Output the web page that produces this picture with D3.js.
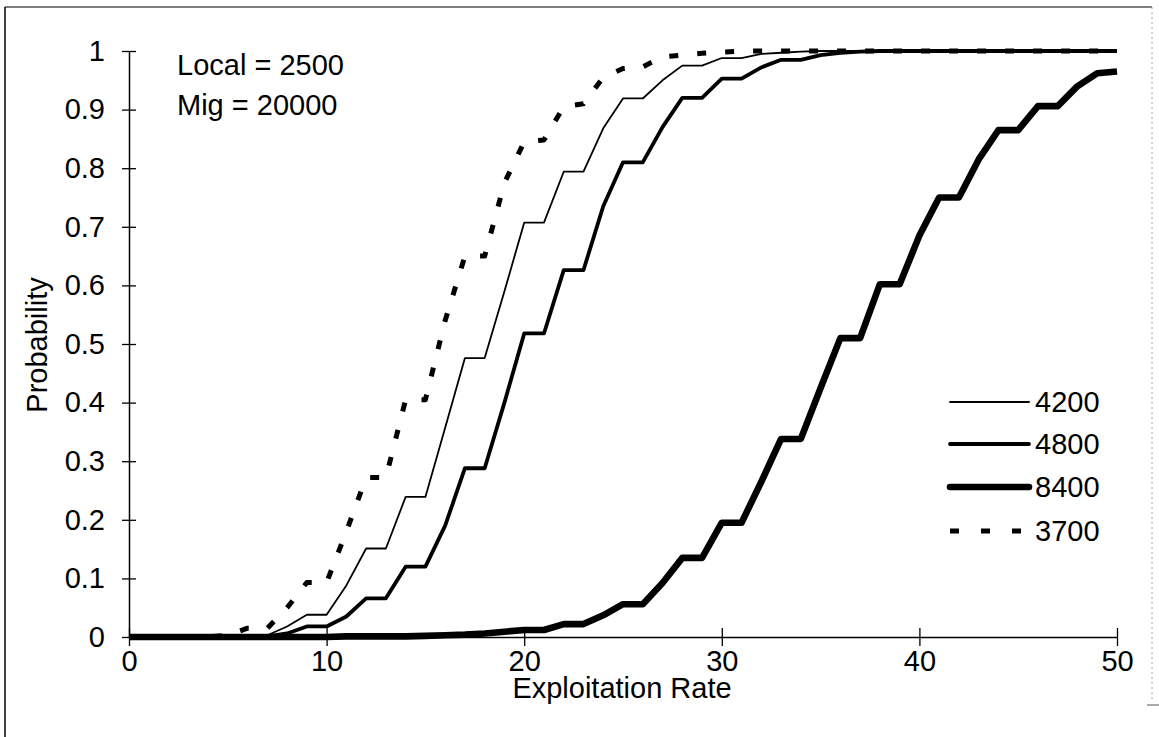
<!DOCTYPE html>
<html>
<head>
<meta charset="utf-8">
<script src="https://cdn.jsdelivr.net/npm/d3@7"></script>
<style>
  html, body { margin: 0; padding: 0; background: #fff; }
  svg { display: block; }
  text { font-family: "Liberation Sans", Arial, Helvetica, sans-serif; fill: #000; }
</style>
</head>
<body>
<svg id="chart" width="1159" height="737"></svg>
<script>
// ---------- data ----------
const exploitationRate = [0,1,2,3,4,5,6,7,8,9,10,11,12,13,14,15,16,17,18,19,20,21,22,23,24,25,26,27,28,29,30,31,32,33,34,35,36,37,38,39,40,41,42,43,44,45,46,47,48,49,50];

const p4200 = [0,0,0,0,0,0,0,0.003,0.018,0.038,0.038,0.088,0.151,0.151,0.239,0.239,0.357,0.476,0.476,0.59,0.707,0.707,0.794,0.794,0.868,0.919,0.919,0.95,0.975,0.975,0.988,0.988,0.995,0.997,0.999,1,1,1,1,1,1,1,1,1,1,1,1,1,1,1,1];

const p4800 = [0,0,0,0,0,0,0,0.001,0.006,0.018,0.018,0.035,0.066,0.066,0.12,0.12,0.19,0.288,0.288,0.40,0.518,0.518,0.626,0.626,0.735,0.81,0.81,0.87,0.92,0.92,0.953,0.953,0.972,0.985,0.985,0.993,0.997,0.999,1,1,1,1,1,1,1,1,1,1,1,1,1];

const p8400 = [0,0,0,0,0,0,0,0,0,0,0,0.001,0.001,0.001,0.001,0.002,0.003,0.004,0.006,0.009,0.012,0.012,0.022,0.022,0.037,0.056,0.056,0.092,0.135,0.135,0.195,0.195,0.265,0.338,0.338,0.425,0.51,0.51,0.602,0.602,0.685,0.75,0.75,0.815,0.865,0.865,0.906,0.906,0.94,0.962,0.965];

const p3700 = [0,0,0,0,0,0.003,0.015,0.015,0.05,0.093,0.093,0.18,0.272,0.272,0.405,0.405,0.54,0.65,0.65,0.775,0.845,0.848,0.905,0.91,0.955,0.97,0.973,0.99,0.993,0.996,0.998,1,1,1,1,1,1,1,1,1,1,1,1,1,1,1,1,1,1,1,1];

const seriesNames = ["4200", "4800", "8400", "3700"];
const xTickValues = [0, 10, 20, 30, 40, 50];
const yTickValues = [0, 0.1, 0.2, 0.3, 0.4, 0.5, 0.6, 0.7, 0.8, 0.9, 1];
const yTickLabels = ["0", "0.1", "0.2", "0.3", "0.4", "0.5", "0.6", "0.7", "0.8", "0.9", "1"];
const annotation = ["Local = 2500", "Mig = 20000"];
const xTitle = "Exploitation Rate";
const yTitle = "Probability";

// ---------- styles ----------
const styles = {
  "4200": { width: 1.8, dash: null },
  "4800": { width: 3.8, dash: null },
  "8400": { width: 6.6, dash: null },
  "3700": { width: 5, dash: "9,19" }
};
const seriesValues = { "4200": p4200, "4800": p4800, "8400": p8400, "3700": p3700 };

// ---------- layout ----------
const svg = d3.select("#chart");
const FS = 29;
const x = d3.scaleLinear().domain([0, 50]).range([129, 1117]);
const y = d3.scaleLinear().domain([0, 1]).range([637, 51]);

// outer frame
svg.append("line").attr("x1", 5).attr("x2", 5).attr("y1", 7).attr("y2", 737)
  .attr("stroke", "#000").attr("stroke-width", 1.5);
svg.append("line").attr("x1", 5).attr("x2", 1152).attr("y1", 7).attr("y2", 7)
  .attr("stroke", "#000").attr("stroke-width", 1.2);
svg.append("line").attr("x1", 1152).attr("x2", 1152).attr("y1", 7).attr("y2", 700)
  .attr("stroke", "#aaa").attr("stroke-width", 1).attr("stroke-dasharray", "2,3");
svg.append("line").attr("x1", 1147).attr("x2", 1159).attr("y1", 705).attr("y2", 705)
  .attr("stroke", "#555").attr("stroke-width", 1);

// y axis
const yAxis = d3.axisLeft(y).tickValues(yTickValues)
  .tickFormat((d, i) => yTickLabels[i]).tickSizeInner(7).tickSizeOuter(0).tickPadding(17);
const gy = svg.append("g").attr("transform", `translate(${x(0)},0)`).call(yAxis);
gy.select(".domain").attr("stroke", "#000").attr("stroke-width", 1.5);
gy.selectAll(".tick line").attr("x1", 7).attr("x2", -7).attr("stroke", "#000").attr("stroke-width", 1.3);
gy.selectAll(".tick text").attr("font-size", FS).attr("font-family", "Liberation Sans, Arial, sans-serif").attr("fill", "#000");

// x axis
const xAxis = d3.axisBottom(x).tickValues(xTickValues)
  .tickFormat(d3.format("d")).tickSizeInner(9).tickSizeOuter(0).tickPadding(4);
const gx = svg.append("g").attr("transform", `translate(0,${y(0)})`).call(xAxis);
gx.select(".domain").attr("stroke", "#000").attr("stroke-width", 1.5);
gx.selectAll(".tick line").attr("y1", -9).attr("y2", 9).attr("stroke", "#000").attr("stroke-width", 1.3);
gx.selectAll(".tick text").attr("font-size", FS).attr("font-family", "Liberation Sans, Arial, sans-serif").attr("fill", "#000");

// series
const line = d3.line()
  .x((d, i) => x(exploitationRate[i]))
  .y(d => y(d));

["3700", "4200", "4800", "8400"].forEach(name => {
  const st = styles[name];
  svg.append("path")
    .datum(seriesValues[name])
    .attr("d", line)
    .attr("fill", "none")
    .attr("stroke", "#000")
    .attr("stroke-width", st.width)
    .attr("stroke-linejoin", "round")
    .attr("stroke-dasharray", st.dash);
});

// titles
svg.append("text").attr("x", 622).attr("y", 698).attr("text-anchor", "middle")
  .attr("font-size", FS).text(xTitle);
svg.append("text").attr("transform", "translate(47,345) rotate(-90)")
  .attr("text-anchor", "middle").attr("font-size", FS).text(yTitle);

// annotation
svg.selectAll("text.annot").data(annotation).enter().append("text")
  .attr("class", "annot")
  .attr("x", 177).attr("y", (d, i) => 75 + i * 40)
  .attr("font-size", FS).text(d => d);

// legend
const legendY = [402, 444, 487, 531];
const lg = svg.append("g");
seriesNames.forEach((name, i) => {
  const st = styles[name];
  lg.append("line")
    .attr("x1", 950).attr("x2", 1029)
    .attr("y1", legendY[i]).attr("y2", legendY[i])
    .attr("stroke", "#000").attr("stroke-width", st.width)
    .attr("stroke-linecap", st.dash ? "butt" : "round")
    .attr("stroke-dasharray", st.dash ? "9,22" : null);
  lg.append("text").attr("x", 1035).attr("y", legendY[i] + 10)
    .attr("font-size", FS).text(name);
});
</script>
</body>
</html>
